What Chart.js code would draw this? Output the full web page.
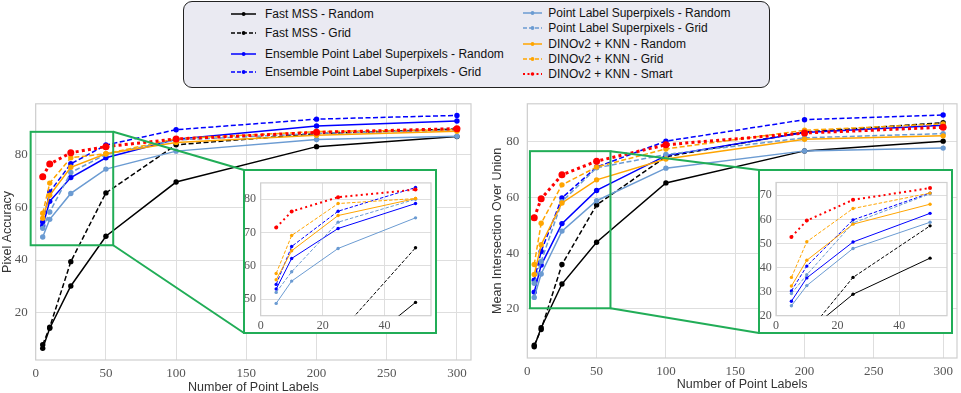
<!DOCTYPE html>
<html>
<head>
<meta charset="utf-8">
<script src="https://cdn.jsdelivr.net/npm/chart.js@4/dist/chart.umd.min.js"></script>
<style>
html,body{margin:0;padding:0;background:#fff;}
body{width:961px;height:393px;position:relative;overflow:hidden;font-family:"Liberation Sans",Arial,sans-serif;}
.abs{position:absolute;}
#legend{position:absolute;left:183px;top:1px;width:587px;height:87px;box-sizing:border-box;border:1.3px solid #222;border-radius:9px;background:#eaeaf2;}
.leg{position:absolute;font-size:12px;line-height:14px;color:#111;white-space:nowrap;}
.inset{position:absolute;box-sizing:border-box;border:2px solid #21ad57;background:#fff;}
canvas{position:absolute;}
.preload{position:absolute;left:-999px;top:-999px;font-family:"Liberation Serif";}
</style>
</head>
<body>
<span class="preload">0123456789</span>
<div id="legend"></div>
<canvas id="cPA"></canvas>
<canvas id="cMIOU"></canvas>
<div id="fPA" class="inset"></div>
<div id="fMIOU" class="inset"></div>
<canvas id="iPA"></canvas>
<canvas id="iMIOU"></canvas>
<script>
// ---------------- DATA ----------------
const POINT_LABELS = [5, 10, 25, 50, 100, 200, 300];
const INSET_MAX_LABELS = 50;   // insets show the first four label counts
const SERIES = [
  'Fast MSS - Random',
  'Fast MSS - Grid',
  'Ensemble Point Label Superpixels - Random',
  'Ensemble Point Label Superpixels - Grid',
  'Point Label Superpixels - Random',
  'Point Label Superpixels - Grid',
  'DINOv2 + KNN - Random',
  'DINOv2 + KNN - Grid',
  'DINOv2 + KNN - Smart'
];
// Pixel Accuracy
const PA_FAST_MSS_RANDOM = [6.6, 14.2, 30.2, 49.0, 69.5, 82.9, 86.7];
const PA_FAST_MSS_GRID   = [8.0, 14.6, 39.4, 65.4, 83.6, 87.8, 89.6];
const PA_ENS_RANDOM      = [53.0, 62.2, 71.2, 78.7, 85.7, 90.7, 92.6];
const PA_ENS_GRID        = [54.4, 65.8, 76.4, 83.5, 89.3, 93.3, 94.7];
const PA_PLS_RANDOM      = [48.7, 55.4, 65.2, 74.4, 81.2, 85.6, 86.8];
const PA_PLS_GRID        = [52.0, 58.2, 73.1, 80.0, 85.4, 87.9, 89.1];
const PA_DINO_RANDOM     = [55.8, 64.5, 75.1, 80.2, 84.5, 87.2, 88.7];
const PA_DINO_GRID       = [57.7, 69.1, 78.7, 80.2, 85.9, 88.6, 89.3];
const PA_DINO_SMART      = [71.5, 76.3, 80.6, 82.9, 85.8, 88.3, 89.7];
// Mean Intersection Over Union
const MIOU_FAST_MSS_RANDOM = [6.4, 13.2, 28.9, 43.9, 65.2, 76.7, 80.2];
const MIOU_FAST_MSS_GRID   = [6.9, 12.6, 35.9, 57.3, 74.6, 83.5, 86.8];
const MIOU_ENS_RANDOM      = [26.0, 35.7, 50.6, 62.5, 75.0, 83.3, 85.9];
const MIOU_ENS_GRID        = [30.3, 40.6, 59.8, 70.9, 80.2, 87.9, 89.6];
const MIOU_PLS_RANDOM      = [24.1, 32.5, 47.9, 58.8, 70.5, 76.7, 77.7];
const MIOU_PLS_GRID        = [29.2, 37.0, 58.5, 70.6, 75.4, 81.4, 82.9];
const MIOU_DINO_RANDOM     = [32.3, 43.0, 58.0, 66.3, 73.8, 80.9, 82.1];
const MIOU_DINO_GRID       = [35.9, 50.7, 64.5, 70.9, 77.4, 84.1, 86.4];
const MIOU_DINO_SMART      = [52.7, 59.5, 68.1, 73.0, 78.9, 83.1, 85.2];

const MAIN_X_TICKS = [0, 50, 100, 150, 200, 250, 300];
const PA_Y_TICKS = [20, 40, 60, 80];
const MIOU_Y_TICKS = [20, 40, 60, 80];
const INSET_X_TICKS = [0, 20, 40];
const PA_INSET_Y_TICKS = [50, 60, 70, 80];
const MIOU_INSET_Y_TICKS = [20, 30, 40, 50, 60, 70];

const PA_VALUES = [PA_FAST_MSS_RANDOM, PA_FAST_MSS_GRID, PA_ENS_RANDOM, PA_ENS_GRID, PA_PLS_RANDOM, PA_PLS_GRID, PA_DINO_RANDOM, PA_DINO_GRID, PA_DINO_SMART];
const MIOU_VALUES = [MIOU_FAST_MSS_RANDOM, MIOU_FAST_MSS_GRID, MIOU_ENS_RANDOM, MIOU_ENS_GRID, MIOU_PLS_RANDOM, MIOU_PLS_GRID, MIOU_DINO_RANDOM, MIOU_DINO_GRID, MIOU_DINO_SMART];

// ---------------- STYLE ----------------
const STYLE = [
  {color:'#000000', dash:'solid'},
  {color:'#000000', dash:'dash'},
  {color:'#0000ff', dash:'solid'},
  {color:'#0000ff', dash:'dash'},
  {color:'#6b9bd2', dash:'solid'},
  {color:'#6b9bd2', dash:'dash'},
  {color:'#ffa500', dash:'solid'},
  {color:'#ffa500', dash:'dash'},
  {color:'#ff0000', dash:'dot'}
];
const SANS = '"Liberation Sans", Arial, sans-serif';
const SERIF = '"Liberation Serif", "DejaVu Serif", serif';
const GRID = '#dedede';
const SPINE = '#cfcfcf';
const TICK_COLOR = '#555555';
const TITLE_COLOR = '#333333';
const GREEN = '#21ad57';

// layout (page pixels)
const L = {
  pa:   {left:0,   top:88, w:480, h:305, yW:35.7, padR:9,  padT:12.7, xH:33, yTitlePad:0,    xTitlePad:-2.2, tickPad:5.5},
  miou: {left:480, top:88, w:481, h:305, yW:47.3, padR:1,  padT:12.7, xH:35, yTitlePad:10.5, xTitlePad:0.5,  tickPad:5.5},
  paInsetFrame:   {left:243, top:169, w:194, h:165},
  miouInsetFrame: {left:758, top:169, w:195, h:165},
  paInset:   {left:245, top:171, w:190, h:161, yW:15.7, padR:1.7, padT:3,   xH:16.3, yPad:4.7},
  miouInset: {left:760, top:171, w:191, h:161, yW:16,   padR:2,   padT:1.3, xH:16.3, yPad:4.3}
};
const ZOOM_BOX_PA = {x0:-3.6, x1:55.2, y0:45.6, y1:88.5};
const ZOOM_BOX_MIOU = {x0:1.9, x1:60.0, y0:20.2, y1:76.6};

const LEGEND_POS = [
  {x:230.7, len:25.3, tx:265,   y:13.8},
  {x:230.7, len:25.3, tx:265,   y:33.3},
  {x:230.7, len:25.3, tx:265,   y:53.7},
  {x:230.7, len:25.3, tx:265,   y:71.7},
  {x:523,   len:19,   tx:548.3, y:13.3},
  {x:523,   len:19,   tx:548.3, y:28.3},
  {x:523,   len:19,   tx:548.3, y:43.7},
  {x:523,   len:19,   tx:548.3, y:58.7},
  {x:523,   len:19,   tx:548.3, y:74.0}
];

// ---------------- LEGEND ----------------
(function(){
  let html = '';
  SERIES.forEach((name, i) => {
    const p = LEGEND_POS[i], st = STYLE[i];
    const isDot = st.dash === 'dot';
    const sw = isDot ? 2.2 : 1.5;
    const da = st.dash === 'dash' ? '4,2' : (isDot ? '2,2.5' : 'none');
    html += `<svg class="abs" style="left:${p.x}px;top:${p.y-5}px" width="${p.len}" height="10">` +
      `<line x1="0" y1="5" x2="${p.len}" y2="5" stroke="${st.color}" stroke-width="${sw}" stroke-dasharray="${da}"/>` +
      `<circle cx="${p.len/2}" cy="5" r="${isDot?1.8:1.9}" fill="${st.color}"/></svg>`;
    html += `<div class="leg" style="left:${p.tx}px;top:${p.y-7}px">${name}</div>`;
  });
  document.body.insertAdjacentHTML('beforeend', html);
})();

// ---------------- CHARTS ----------------
function place(el, r){
  el.width = r.w; el.height = r.h;
  el.style.left = r.left + 'px'; el.style.top = r.top + 'px';
  el.style.width = r.w + 'px'; el.style.height = r.h + 'px';
}
function placeDiv(el, r){
  el.style.left = r.left + 'px'; el.style.top = r.top + 'px';
  el.style.width = r.w + 'px'; el.style.height = r.h + 'px';
}

function makeDatasets(values, inset){
  return values.map((vals, i) => {
    const st = STYLE[i];
    const isDot = st.dash === 'dot';
    let dash = [];
    if (st.dash === 'dash') dash = inset ? [3.5, 1.8] : [5, 2.5];
    if (isDot) dash = inset ? [2, 3.2] : [3, 3.2];
    const pts = [];
    POINT_LABELS.forEach((x, j) => {
      if (!inset || x <= INSET_MAX_LABELS) pts.push({x: x, y: vals[j]});
    });
    return {
      label: SERIES[i],
      data: pts,
      borderColor: st.color,
      backgroundColor: st.color,
      pointBackgroundColor: st.color,
      pointBorderWidth: 0,
      pointRadius: inset ? (isDot ? 2 : 1.7) : (isDot ? 3.5 : 2.7),
      borderWidth: inset ? (isDot ? 2 : 1) : (isDot ? 3 : 1.5),
      borderDash: dash,
      tension: 0,
      fill: false,
      order: values.length - i
    };
  });
}

const spinePlugin = {
  id: 'spines',
  beforeDatasetsDraw(chart){
    const {ctx, chartArea:a} = chart;
    ctx.save();
    ctx.strokeStyle = SPINE; ctx.lineWidth = 1.2;
    ctx.strokeRect(a.left, a.top, a.right - a.left, a.bottom - a.top);
    ctx.restore();
  }
};

function zoomPlugin(box, frame, canvasRect){
  return {
    id: 'zoomMark',
    afterDatasetsDraw(chart){
      const {ctx, scales:{x, y}} = chart;
      const x0 = x.getPixelForValue(box.x0), x1 = x.getPixelForValue(box.x1);
      const y0 = y.getPixelForValue(box.y0), y1 = y.getPixelForValue(box.y1);
      const fx = frame.left + 1 - canvasRect.left;
      const fyT = frame.top + 1 - canvasRect.top;
      const fyB = frame.top + frame.h - 1 - canvasRect.top;
      ctx.save();
      ctx.strokeStyle = GREEN; ctx.lineWidth = 2;
      ctx.strokeRect(x0, y1, x1 - x0, y0 - y1);
      ctx.beginPath();
      ctx.moveTo(x1, y1); ctx.lineTo(fx, fyT);
      ctx.moveTo(x1, y0); ctx.lineTo(fx, fyB);
      ctx.stroke();
      ctx.restore();
    }
  };
}

function tickSetter(arr){ return s => { s.ticks = arr.map(v => ({value: v})); }; }

function mainChart(canvasId, r, values, yTicks, yMin, yMax, yTitle, box, frame){
  const el = document.getElementById(canvasId);
  place(el, r);
  return new Chart(el, {
    type: 'line',
    data: {datasets: makeDatasets(values, false)},
    plugins: [spinePlugin, zoomPlugin(box, frame, r)],
    options: {
      responsive: false, animation: false, devicePixelRatio: 1,
      layout: {padding: {left: 0, right: r.padR, top: r.padT, bottom: 0}},
      plugins: {legend: {display: false}, tooltip: {enabled: false}},
      scales: {
        x: {
          type: 'linear', min: 0, max: 310,
          afterBuildTicks: tickSetter(MAIN_X_TICKS),
          afterFit: s => { s.height = r.xH; },
          grid: {color: GRID, lineWidth: 1, drawTicks: false},
          border: {display: false},
          ticks: {padding: r.tickPad, maxRotation: 0, color: TICK_COLOR, font: {family: SERIF, size: 13}},
          title: {display: true, text: 'Number of Point Labels', color: TITLE_COLOR, font: {family: SANS, size: 12.5}, padding: {top: 0, bottom: r.xTitlePad}}
        },
        y: {
          type: 'linear', min: yMin, max: yMax,
          afterBuildTicks: tickSetter(yTicks),
          afterFit: s => { s.width = r.yW; },
          grid: {color: GRID, lineWidth: 1, drawTicks: false},
          border: {display: false},
          ticks: {padding: 8, color: TICK_COLOR, font: {family: SERIF, size: 13}},
          title: {display: true, text: yTitle, color: TITLE_COLOR, font: {family: SANS, size: 12.5}, padding: {top: r.yTitlePad, bottom: 0}}
        }
      }
    }
  });
}

function insetChart(canvasId, r, values, yTicks, xMax, yMin, yMax){
  const el = document.getElementById(canvasId);
  place(el, r);
  return new Chart(el, {
    type: 'line',
    data: {datasets: makeDatasets(values, true)},
    plugins: [spinePlugin],
    options: {
      responsive: false, animation: false, devicePixelRatio: 1,
      layout: {padding: {left: 0, right: r.padR, top: r.padT, bottom: 0}},
      plugins: {legend: {display: false}, tooltip: {enabled: false}},
      scales: {
        x: {
          type: 'linear', min: 0, max: xMax,
          afterBuildTicks: tickSetter(INSET_X_TICKS),
          afterFit: s => { s.height = r.xH; },
          grid: {color: GRID, lineWidth: 1, drawTicks: false},
          border: {display: false},
          ticks: {padding: 3, maxRotation: 0, color: TICK_COLOR, font: {family: SERIF, size: 12}}
        },
        y: {
          type: 'linear', min: yMin, max: yMax,
          afterBuildTicks: tickSetter(yTicks),
          afterFit: s => { s.width = r.yW; },
          grid: {color: GRID, lineWidth: 1, drawTicks: false},
          border: {display: false},
          ticks: {padding: r.yPad, color: TICK_COLOR, font: {family: SERIF, size: 12}}
        }
      }
    }
  });
}

placeDiv(document.getElementById('fPA'), L.paInsetFrame);
placeDiv(document.getElementById('fMIOU'), L.miouInsetFrame);

function drawAll(){
  mainChart('cPA', L.pa, PA_VALUES, PA_Y_TICKS, 2.2, 99.1, 'Pixel Accuracy', ZOOM_BOX_PA, L.paInsetFrame);
  mainChart('cMIOU', L.miou, MIOU_VALUES, MIOU_Y_TICKS, 2.35, 93.6, 'Mean Intersection Over Union', ZOOM_BOX_MIOU, L.miouInsetFrame);
  insetChart('iPA', L.paInset, PA_VALUES, PA_INSET_Y_TICKS, 55, 45.0, 84.9);
  insetChart('iMIOU', L.miouInset, MIOU_VALUES, MIOU_INSET_Y_TICKS, 55.5, 20, 75.3);
}
if (document.fonts && document.fonts.load) {
  Promise.all([document.fonts.load('13px "Liberation Serif"'), document.fonts.load('12px "Liberation Sans"')])
    .then(drawAll, drawAll);
} else {
  drawAll();
}
</script>
</body>
</html>
